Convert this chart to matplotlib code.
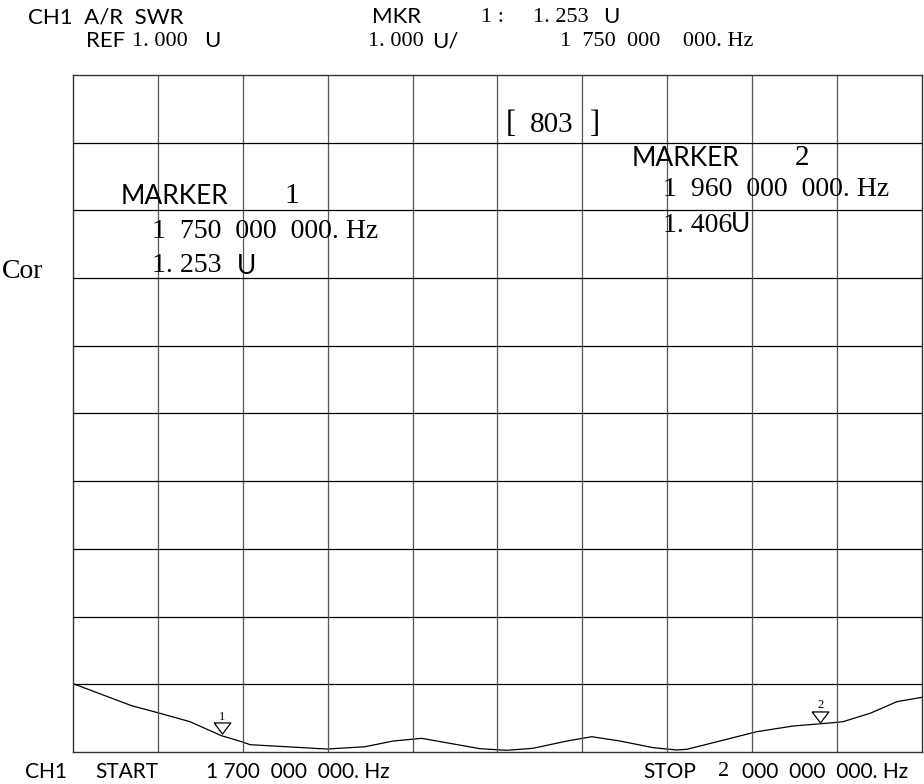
import matplotlib
matplotlib.use("Agg")
import matplotlib.pyplot as plt

# SWR trace (MHz, SWR in units)
freq_mhz = [1700, 1720.7, 1730, 1741.3, 1752.5, 1759.6, 1762.6, 1789.7, 1803.2,
            1813.1, 1823.2, 1843.8, 1853.3, 1862.6, 1874.5, 1883.3, 1893.3, 1905,
            1913.3, 1916.9, 1926.2, 1941.6, 1954.5, 1968.6, 1972.1, 1981.7,
            1991.1, 2000]
swr = [2.01, 1.684, 1.58, 1.448, 1.24, 1.152, 1.108, 1.044, 1.078,
       1.162, 1.202, 1.049, 1.025, 1.055, 1.162, 1.226, 1.162, 1.064,
       1.03, 1.04, 1.137, 1.30, 1.384, 1.433, 1.448, 1.572,
       1.743, 1.808]

marker_ids = ["1", "2"]
marker_mhz = [1752.5, 1964.0]
marker_swr = [1.28, 1.433]
label_lift = [16, 18]   # px between triangle tip and its number

start_mhz, stop_mhz = 1700, 2000
ref_val, per_div, n_div = 1.0, 1.0, 10

SANS = ["Lato", "DejaVu Sans"]
SERIF = ["Liberation Serif", "DejaVu Serif"]
W, H = 924, 784

fig = plt.figure(figsize=(W / 100, H / 100), dpi=100)
ax = fig.add_axes([73 / W, 1 - 752 / H, 849 / W, 677 / H])

ax.plot(freq_mhz, swr, color="black", lw=0.9)
ax.set_xlim(start_mhz, stop_mhz)
ax.set_ylim(ref_val, ref_val + per_div * n_div)

# graticule
step = (stop_mhz - start_mhz) / n_div
for i in range(1, n_div):
    ax.axvline(start_mhz + i * step, color="#555555", lw=0.9)
    ax.axhline(ref_val + i * per_div, color="black", lw=0.9)
for s in ax.spines.values():
    s.set_linewidth(1.0)
    s.set_color("#333333")
ax.set_xticks([])
ax.set_yticks([])

# marker triangles with their numbers
tri = [(-1.5, 1), (1.5, 1), (0, -1), (-1.5, 1)]
for mid, mf, ms, lift in zip(marker_ids, marker_mhz, marker_swr, label_lift):
    ax.plot(mf, ms + 0.08, marker=tri, ms=12, mfc="none", mec="black",
            mew=0.9, clip_on=False)
    ax.annotate(mid, xy=(mf, ms), xytext=(0, lift), textcoords="offset pixels",
                ha="center", va="center", fontsize=9, family=SERIF)


def txt(x, y, s, fam, size):
    fig.text(x / W, 1 - y / H, s, family=fam, fontsize=size,
             ha="left", va="center")


# header
txt(28, 17, "CH1  A/R  SWR", SANS, 16)
txt(372, 17, "MKR", SANS, 16)
txt(481, 17, "1 :", SERIF, 16)
txt(533, 17, "1. 253", SERIF, 16)
txt(603, 17, "U", SANS, 16)
txt(86, 41, "REF", SANS, 16)
txt(132, 41, "1. 000", SERIF, 16)
txt(204, 41, "U", SANS, 16)
txt(368, 41, "1. 000", SERIF, 16)
txt(432, 41, "U/", SANS, 16)
txt(560, 41, "1  750  000    000. Hz", SERIF, 16)

# annotations inside the graticule
txt(506, 125, "[", SERIF, 22)
txt(530, 125, "803", SERIF, 21)
txt(590, 125, "]", SERIF, 22)

txt(632, 158, "MARKER", SANS, 19)
txt(795, 158, "2", SERIF, 21)
txt(663, 190, "1  960  000  000. Hz", SERIF, 20)
txt(663, 225, "1. 406", SERIF, 20)
txt(731, 225, "U", SANS, 19)

txt(121, 196, "MARKER", SANS, 19)
txt(284, 196, "1", SERIF, 21)
txt(152, 231, "1  750  000  000. Hz", SERIF, 20)
txt(152, 266, "1. 253", SERIF, 20)
txt(237, 266, "U", SANS, 19)

txt(2, 272, "Cor", SERIF, 20)

# footer
txt(25, 772, "CH1", SANS, 15)
txt(95, 772, "START", SANS, 15)
txt(206, 772, "1 700  000  000. Hz", SANS, 15)
txt(643, 772, "STOP", SANS, 15)
txt(718, 772, "2", SERIF, 16)
txt(742, 772, "000  000  000. Hz", SANS, 15)

fig.savefig("out.png", dpi=100, facecolor="white")
